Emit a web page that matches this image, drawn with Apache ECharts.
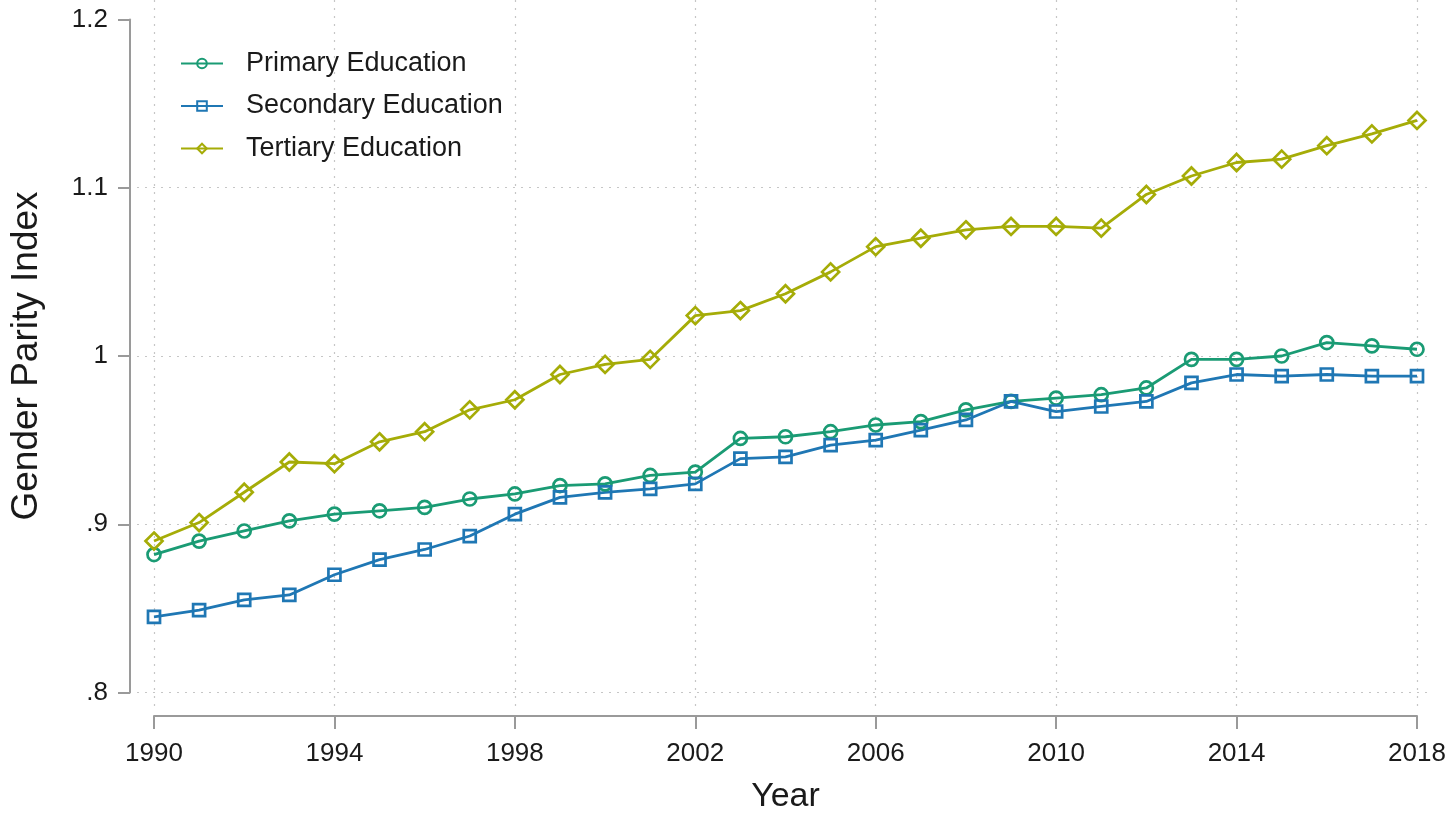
<!DOCTYPE html>
<html>
<head>
<meta charset="utf-8">
<script src="https://cdn.jsdelivr.net/npm/echarts@6/dist/echarts.min.js"></script>
<style>
html,body{margin:0;padding:0;background:#fff;}
#chart{width:1451px;height:817px;}
</style>
</head>
<body>
<div id="chart"></div>
<script>
const years = [1990,1991,1992,1993,1994,1995,1996,1997,1998,1999,2000,2001,2002,2003,2004,2005,2006,2007,2008,2009,2010,2011,2012,2013,2014,2015,2016,2017,2018];
const primary = [0.882,0.890,0.896,0.902,0.906,0.908,0.910,0.915,0.918,0.923,0.924,0.929,0.931,0.951,0.952,0.955,0.959,0.961,0.968,0.973,0.975,0.977,0.981,0.998,0.998,1.000,1.008,1.006,1.004];
const secondary = [0.845,0.849,0.855,0.858,0.870,0.879,0.885,0.893,0.906,0.916,0.919,0.921,0.924,0.939,0.940,0.947,0.950,0.956,0.962,0.973,0.967,0.970,0.973,0.984,0.989,0.988,0.989,0.988,0.988];
const tertiary = [0.890,0.901,0.919,0.937,0.936,0.949,0.955,0.968,0.974,0.989,0.995,0.998,1.024,1.027,1.037,1.050,1.065,1.070,1.075,1.077,1.077,1.076,1.096,1.107,1.115,1.117,1.125,1.132,1.140];
const seriesNames = ['Primary Education','Secondary Education','Tertiary Education'];
const yTickLabels = {'0.8':'.8','0.9':'.9','1':'1','1.1':'1.1','1.2':'1.2'};

const colors = ['#1a9b74','#1f77b4','#a5ac07'];
const font = 'Liberation Sans, Arial, sans-serif';
const gridColor = '#c6c6c6';
const txt = '#1a1a1a';
const axisCol = '#9a9a9a';

// main plot box (pixels)
const L = 154, R = 34, T = 19.5, B = 124.5;
// outer region reached by the dotted grid lines
const gL = 137, gR = 18, gT = 0, gB = 107;
const yearStep = 4;
const dotted = {color: gridColor, type: [2,6], width: 1.2};

function mk(name, data, color, symbol, size) {
  return {
    name: name, type: 'line', data: data, xAxisIndex: 0, yAxisIndex: 0,
    symbol: symbol, symbolSize: size, showSymbol: true,
    lineStyle: {color: color, width: 2.8},
    itemStyle: {color: 'rgba(255,255,255,0)', borderColor: color, borderWidth: 2.7},
    emphasis: {disabled: true},
    z: 3
  };
}
const hidden = {axisLine: {show: false}, axisTick: {show: false}, axisLabel: {show: false}, splitLine: {show: false}};

const chart = echarts.init(document.getElementById('chart'), null, {renderer: 'canvas'});
chart.setOption({
  animation: false,
  backgroundColor: '#fff',
  textStyle: {fontFamily: font},
  grid: [
    {left: L, right: R, top: T, bottom: B, outerBoundsMode: 'none', containLabel: false},
    {left: gL, right: gR, top: T, bottom: B, outerBoundsMode: 'none', containLabel: false},
    {left: L, right: R, top: gT, bottom: gB, outerBoundsMode: 'none', containLabel: false}
  ],
  legend: {
    orient: 'vertical', left: 175, top: 45,
    itemWidth: 42, itemHeight: 12, itemGap: 15.5,
    textStyle: {fontFamily: font, fontSize: 27, color: txt, padding: [0,0,0,18]},
    data: seriesNames
  },
  xAxis: [{
    type: 'category', data: years, boundaryGap: false, gridIndex: 0,
    offset: 23.5,
    name: 'Year', nameLocation: 'middle', nameGap: 64,
    nameTextStyle: {fontFamily: font, fontSize: 34, color: txt},
    axisLine: {lineStyle: {color: axisCol, width: 2}},
    axisTick: {interval: yearStep - 1, length: 13, lineStyle: {color: axisCol, width: 2}},
    axisLabel: {interval: yearStep - 1, margin: 25, fontSize: 26, color: txt, fontFamily: font},
    splitLine: {show: false}
  }, Object.assign({type: 'value', gridIndex: 1, min: 0, max: 1}, hidden), {
    type: 'category', data: years, boundaryGap: false, gridIndex: 2,
    axisLine: {show: false}, axisTick: {show: false}, axisLabel: {show: false},
    splitLine: {show: true, interval: yearStep - 1, lineStyle: dotted}
  }],
  yAxis: [{
    type: 'value', min: 0.8, max: 1.2, interval: 0.1, gridIndex: 0,
    offset: 24,
    name: 'Gender Parity Index', nameLocation: 'middle', nameGap: 85,
    nameTextStyle: {fontFamily: font, fontSize: 37, color: txt},
    axisLine: {show: true, lineStyle: {color: axisCol, width: 2}},
    axisTick: {show: true, length: 12, lineStyle: {color: axisCol, width: 2}},
    axisLabel: {margin: 22, fontSize: 26, color: txt, fontFamily: font,
      formatter: v => yTickLabels[String(Math.round(v*10)/10)] ?? String(v)},
    splitLine: {show: false}
  }, {
    type: 'value', min: 0.8, max: 1.2, interval: 0.1, gridIndex: 1,
    axisLine: {show: false}, axisTick: {show: false}, axisLabel: {show: false},
    splitLine: {show: true, showMinLine: true, showMaxLine: false, lineStyle: dotted}
  }, Object.assign({type: 'value', gridIndex: 2, min: 0, max: 1}, hidden)],
  series: [
    mk(seriesNames[0], primary, colors[0], 'circle', 13),
    mk(seriesNames[1], secondary, colors[1], 'rect', 12),
    mk(seriesNames[2], tertiary, colors[2], 'diamond', 17)
  ]
});
</script>
</body>
</html>
